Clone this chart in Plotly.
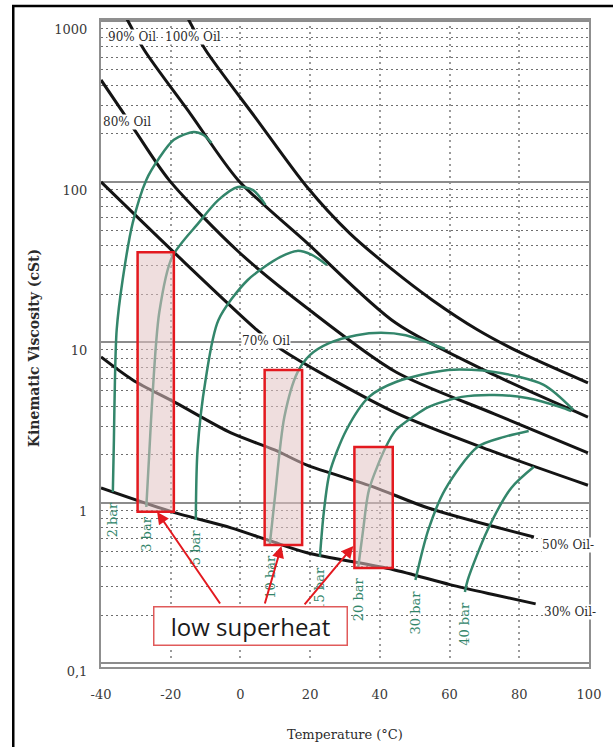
import math
import plotly.graph_objects as go

# ---------------- data ----------------
# Oil-concentration lines: temperature (°C) and kinematic viscosity (cSt)
oil100_t = [-15.5, -10.0, 4.4, 19.1, 31.3, 43.7, 55.0, 68.0, 80.5, 99.7]
oil100_v = [1090, 664, 250, 93, 48, 28.3, 18.4, 12.0, 8.6, 5.6]

oil90_t = [-33.0, -27.6, -14.3, -0.7, 19.1, 44.6, 72.8, 99.7]
oil90_v = [1080, 664, 265, 103, 41.7, 13.2, 6.28, 3.43]

oil80_t = [-40.0, -33.8, -29.8, -20.5, -0.7, 19.1, 44.6, 72.8, 99.7]
oil80_v = [432, 273, 202, 103, 37, 16.4, 6.55, 3.59, 2.05]

oil70_t = [-40.0, -17.7, 4.1, 12.0, 44.6, 72.8, 99.7]
oil70_v = [100, 34.1, 12.3, 8.98, 3.64, 2.08, 1.29]

oil50_t = [-40.0, -30.9, -18.5, -2.7, 9.8, 19.1, 38.1, 53.9, 84.2]
oil50_v = [8.12, 5.84, 4.20, 2.73, 2.14, 1.72, 1.26, 0.93, 0.614]

oil30_t = [-40.0, -19.6, -2.7, 8.6, 19.1, 43.7, 60.1, 72.8, 84.7]
oil30_v = [1.24, 0.88, 0.70, 0.58, 0.49, 0.385, 0.31, 0.268, 0.235]

# Isobars (refrigerant pressure), same units
bar2_t = [-36.6, -36.3, -36.0, -35.5, -33.8, -30.9, -27.0, -23.3, -19.1, -13.4, -10.6, -8.3]
bar2_v = [1.17, 2.47, 5.84, 12.0, 24.5, 55.6, 103, 141, 183, 205, 196, 175]

bar3_t = [-27.0, -26.1, -25.3, -23.3, -19.6, -12.0, -6.3, -0.7, 3.6, 7.2]
bar3_v = [0.944, 2.14, 4.38, 15.3, 34.1, 55.6, 77.3, 93, 89, 72]

bar5_t = [-12.8, -12.3, -10.0, -6.3, 2.1, 11.5, 16.3, 20.5, 24.8]
bar5_v = [0.784, 2.14, 5.84, 13.8, 24.5, 34.1, 37.2, 35.1, 30.4]

bar10_t = [8.4, 9.8, 12.6, 16.3, 20.0, 25.6, 33.3, 40.3, 47.4, 58.7]
bar10_v = [0.547, 1.04, 3.43, 6.46, 8.36, 9.93, 11.1, 11.5, 11.1, 9.1]

bar15_t = [22.8, 23.9, 25.6, 30.4, 36.9, 44.6, 59.6, 72.8, 87.0, 95.5]
bar15_v = [0.461, 0.867, 1.54, 2.85, 4.58, 5.67, 6.74, 6.55, 5.44, 3.80]

bar20_t = [33.8, 35.2, 36.9, 41.7, 44.6, 49.4, 53.9, 63.5, 72.8, 82.2, 91.8, 94.9]
bar20_v = [0.399, 0.679, 1.21, 2.23, 2.85, 3.43, 3.96, 4.58, 4.71, 4.51, 3.96, 3.74]

bar30_t = [50.2, 53.9, 58.7, 68.0, 75.7, 82.7]
bar30_v = [0.331, 0.679, 1.21, 2.23, 2.58, 2.81]

bar40_t = [64.4, 65.2, 70.9, 77.7, 84.2]
bar40_v = [0.279, 0.331, 0.679, 1.24, 1.68]

# Low-superheat zones: temperature span and viscosity span
zone_t = [(-29.5, -19.1), (6.95, 17.7), (32.7, 43.7)]
zone_v = [(0.88, 36.5), (0.547, 6.74), (0.394, 2.23)]

# Axis ticks
x_ticks = [-40, -20, 0, 20, 40, 60, 80, 100]
x_tick_text = ["-40", "-20", "0", "20", "40", "60", "80", "100"]
y_ticks = [0.1, 1, 10, 100, 1000]
y_tick_text = ["0,1", "1", "10", "100", "1000"]
y_minor = [k * 10 ** d for d in range(-1, 3) for k in range(2, 10)]

oil_curves = [
    ("100% Oil", oil100_t, oil100_v),
    ("90% Oil", oil90_t, oil90_v),
    ("80% Oil", oil80_t, oil80_v),
    ("70% Oil", oil70_t, oil70_v),
    ("50% Oil", oil50_t, oil50_v),
    ("30% Oil", oil30_t, oil30_v),
]
bar_curves = [
    ("2 bar", bar2_t, bar2_v),
    ("3 bar", bar3_t, bar3_v),
    ("5 bar", bar5_t, bar5_v),
    ("10 bar", bar10_t, bar10_v),
    ("15 bar", bar15_t, bar15_v),
    ("20 bar", bar20_t, bar20_v),
    ("30 bar", bar30_t, bar30_v),
    ("40 bar", bar40_t, bar40_v),
]

BLACK = "#141414"
GREEN = "#33866b"
RED = "#e3191f"
SERIF = "DejaVu Serif"

fig = go.Figure()

for name, t, v in oil_curves:
    fig.add_trace(go.Scatter(
        x=t, y=v, mode="lines", name=name, showlegend=False, hoverinfo="skip",
        line=dict(color=BLACK, width=3, shape="spline", smoothing=0.8)))

for name, t, v in bar_curves:
    fig.add_trace(go.Scatter(
        x=t, y=v, mode="lines", name=name, showlegend=False, hoverinfo="skip",
        line=dict(color=GREEN, width=2.5, shape="spline", smoothing=0.8)))

# translucent highlight boxes over the curves (shape y uses data values)
shapes = []
for (t0, t1), (v0, v1) in zip(zone_t, zone_v):
    shapes.append(dict(
        type="rect", xref="x", yref="y", layer="above",
        x0=t0, x1=t1, y0=v0, y1=v1,
        line=dict(color=RED, width=2.5), fillcolor="rgba(225,195,195,0.55)"))

# outer frame around the figure
shapes.append(dict(
    type="rect", xref="paper", yref="paper", layer="above",
    x0=-0.1798, x1=1.06, y0=-0.15, y1=1.0216,
    line=dict(color="black", width=2.5), fillcolor="rgba(0,0,0,0)"))

annotations = []

# oil-line labels (white background breaks the line underneath)
oil_labels = [
    ("90% Oil", -31.2, 2.903),
    ("100% Oil", -13.7, 2.903),
    ("80% Oil", -32.4, 2.374),
    ("70% Oil", 7.2, 1.009),
    ("50% Oil-", 94.0, -0.262),
    ("30% Oil-", 94.5, -0.679),
]
for txt, x, y in oil_labels:
    annotations.append(dict(
        text=txt, x=x, y=y, xref="x", yref="y", showarrow=False,
        xanchor="center", yanchor="middle",
        bgcolor="white", borderpad=0,
        font=dict(family=SERIF, size=12, color="#2b2b2b")))

# isobar labels, rotated, just below each curve's lower end
for name, t, v in bar_curves:
    annotations.append(dict(
        text=name, x=t[0], y=math.log10(v[0]), xref="x", yref="y",
        showarrow=False, textangle=-90, yanchor="top", xanchor="center", yshift=-8,
        font=dict(family=SERIF, size=13, color=GREEN)))

# call-out box and arrows
annotations.append(dict(
    text="low superheat", xref="paper", yref="paper", x=0.307, y=0.0626,
    xanchor="center", yanchor="middle",
    showarrow=False, width=192, height=37, borderpad=0,
    bordercolor="#e05a5a", borderwidth=1.5, bgcolor="white",
    font=dict(family="Open Sans", size=24, color="#1a1a1a")))

arrow_tips = [(-23.9, 0.879, 64, 93), (11.76, 0.54, -17, 59), (32.4, 0.54, -50, 60)]
for x, v, ax, ay in arrow_tips:
    annotations.append(dict(
        text="", x=x, y=math.log10(v), xref="x", yref="y",
        showarrow=True, ax=ax, ay=ay, arrowcolor=RED, arrowwidth=2,
        arrowhead=2, arrowsize=1.2, standoff=0))

# axis titles
annotations.append(dict(
    text="Temperature (°C)", xref="paper", yref="paper", x=0.5, y=-0.105,
    xanchor="center", yanchor="middle",
    showarrow=False, font=dict(family=SERIF, size=13, color="#2b2b2b")))
annotations.append(dict(
    text="<b>Kinematic Viscosity (cSt)</b>", xref="paper", yref="paper",
    x=-0.137, y=0.493, textangle=-90, showarrow=False,
    xanchor="center", yanchor="middle",
    font=dict(family=SERIF, size=14, color="#2b2b2b")))

fig.update_xaxes(
    range=[-40, 100], tickvals=x_ticks, ticktext=x_tick_text,
    showgrid=True, gridcolor="#9a9a9a", gridwidth=1.5, griddash="2px,4px",
    zeroline=False, showline=True, mirror=True, linecolor="#8f8f8f", linewidth=2,
    ticks="", ticklabelstandoff=14,
    tickfont=dict(family=SERIF, size=13, color="#3a3a3a"))

fig.update_yaxes(
    type="log", range=[-1.022, 3.009], tickvals=y_ticks, ticktext=y_tick_text,
    showgrid=True, gridcolor="#8c8c8c", gridwidth=2,
    zeroline=False, showline=True, mirror=True, linecolor="#8f8f8f", linewidth=2,
    ticks="", ticklabelstandoff=9, ticklabelshift=8,
    tickfont=dict(family=SERIF, size=13, color="#3a3a3a"),
    minor=dict(tickvals=y_minor, showgrid=True, gridcolor="#6e6e6e",
               gridwidth=1.3, griddash="2px,3px", ticks=""))

fig.update_layout(
    width=613, height=747,
    margin=dict(l=101, r=17, t=20, b=80),
    paper_bgcolor="white", plot_bgcolor="white",
    showlegend=False, shapes=shapes, annotations=annotations)

fig.write_html("out.html")
